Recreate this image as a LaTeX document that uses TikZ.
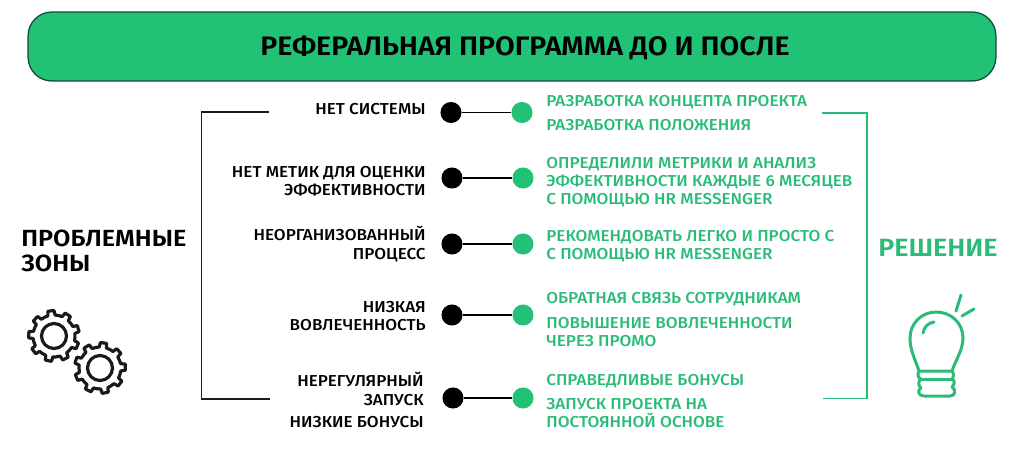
\documentclass[tikz,border=0pt]{standalone}
\usepackage{fontspec}
\setmainfont{Fira Sans}[BoldFont={Fira Sans Medium},FakeStretch=1.08]
\newfontfamily\headfont{Fira Sans SemiBold}[FakeStretch=1.07]
\newfontfamily\sidefont{Fira Sans SemiBold}[FakeStretch=1.08]
\definecolor{headgreen}{HTML}{21C275}
\definecolor{headline}{HTML}{0F4A30}
\definecolor{solgreen}{HTML}{2BBB78}
\definecolor{inkblack}{HTML}{1A1A1A}
\tikzset{
  problem/.style={anchor=east, align=right, text=black, inner sep=0pt, font=\bfseries\fontsize{9}{10.4}\selectfont},
  solution/.style={anchor=west, align=left, text=solgreen, inner sep=0pt, font=\bfseries\fontsize{9}{10.4}\selectfont},
  blackdot/.style={circle, fill=black, minimum size=12pt, inner sep=0pt},
  greendot/.style={circle, fill=headgreen, minimum size=12pt, inner sep=0pt},
  link/.style={line width=0.8pt, black},
  bracketblack/.style={line width=0.8pt, inkblack},
  bracketgreen/.style={line width=0.8pt, solgreen},
  gearline/.style={line width=1.8pt, inkblack, line join=round},
  bulbline/.style={line width=1.7pt, solgreen, line cap=round, line join=round}
}
\newcommand{\gearshape}[3]{% centre x, centre y, start angle
  \draw[gearline] ({#1+21*cos(#3)},{#2+21*sin(#3)})
  \foreach \k in {0,...,8} {
    -- ({#1+21*cos(#3+40*\k+8)},{#2+21*sin(#3+40*\k+8)})
    -- ({#1+25.5*cos(#3+40*\k+11)},{#2+25.5*sin(#3+40*\k+11)})
    -- ({#1+25.5*cos(#3+40*\k+25)},{#2+25.5*sin(#3+40*\k+25)})
    -- ({#1+21*cos(#3+40*\k+28)},{#2+21*sin(#3+40*\k+28)})
    -- ({#1+21*cos(#3+40*\k+40)},{#2+21*sin(#3+40*\k+40)})
  } -- cycle;
  \draw[gearline] (#1,#2) circle (12.5);
}
\begin{document}
\begin{tikzpicture}[x=0.02cm,y=-0.02cm]
  \useasboundingbox (0,0) rectangle (1024,460);

  % Header
  \node[draw=headline, fill=headgreen, line width=0.7pt, rounded corners=13.5pt,
        minimum width=19.36cm, minimum height=1.38cm] (header) at (512,46.5) {};
  \node[font=\headfont\fontsize{15.2}{18}\selectfont, inner sep=0pt] (title) at (525,47.5) {РЕФЕРАЛЬНАЯ ПРОГРАММА ДО И ПОСЛЕ};

  % Side titles
  \node[anchor=west, align=left, inner sep=0pt, font=\sidefont\fontsize{13.3}{14}\selectfont] (zones) at (21,251) {ПРОБЛЕМНЫЕ\\ЗОНЫ};
  \node[inner sep=0pt, text=solgreen, font=\sidefont\fontsize{14.2}{14}\selectfont] (answer) at (938,248) {РЕШЕНИЕ};

  % Problems
  \node[problem] (p1) at (426,109) {НЕТ СИСТЕМЫ};
  \node[problem] (p2) at (426,181) {НЕТ МЕТИК ДЛЯ ОЦЕНКИ\\ЭФФЕКТИВНОСТИ};
  \node[problem] (p3) at (426,244) {НЕОРГАНИЗОВАННЫЙ\\ПРОЦЕСС};
  \node[problem] (p4) at (426,316) {НИЗКАЯ\\ВОВЛЕЧЕННОСТЬ};
  \node[problem] (p5) at (424,389) {НЕРЕГУЛЯРНЫЙ\\ЗАПУСК};
  \node[problem] (p6) at (424,422) {НИЗКИЕ БОНУСЫ};

  % Solutions
  \node[solution] (s1) at (546,102) {РАЗРАБОТКА КОНЦЕПТА ПРОЕКТА};
  \node[solution] (s2) at (546,125) {РАЗРАБОТКА ПОЛОЖЕНИЯ};
  \node[solution] (s3) at (546,182) {ОПРЕДЕЛИЛИ МЕТРИКИ И АНАЛИЗ\\ЭФФЕКТИВНОСТИ КАЖДЫЕ 6 МЕСЯЦЕВ\\С ПОМОЩЬЮ HR MESSENGER};
  \node[solution] (s4) at (546,246) {РЕКОМЕНДОВАТЬ ЛЕГКО И ПРОСТО С\\С ПОМОЩЬЮ HR MESSENGER};
  \node[solution] (s5) at (546,299) {ОБРАТНАЯ СВЯЗЬ СОТРУДНИКАМ};
  \node[solution] (s6) at (546,332) {ПОВЫШЕНИЕ ВОВЛЕЧЕННОСТИ\\ЧЕРЕЗ ПРОМО};
  \node[solution] (s7) at (546,381) {СПРАВЕДЛИВЫЕ БОНУСЫ};
  \node[solution] (s8) at (546,413) {ЗАПУСК ПРОЕКТА НА\\ПОСТОЯННОЙ ОСНОВЕ};

  % Dots and links
  \foreach \n/\xa/\ya/\xb/\yb in {1/451/112.5/522/112.5, 2/452/178/523/178, 3/452/244/523/244, 4/452/315/523/315, 5/453/398/523/398} {
    \node[blackdot] (b\n) at (\xa,\ya) {};
    \node[greendot] (g\n) at (\xb,\yb) {};
    \draw[link] (b\n) -- (g\n);
  }

  % Left bracket
  \coordinate (lt) at (269,112);
  \coordinate (lb) at (270,399);
  \draw[bracketblack] (lt) -| (201.5,399) -- (lb);

  % Right bracket
  \coordinate (rt) at (822,113);
  \coordinate (rb) at (823,398.5);
  \draw[bracketgreen] (rt) -| (867,398.5) -- (rb);

  % Gears
  \gearshape{54}{336}{5}
  \gearshape{100}{368}{20}

  % Bulb
  \draw[bulbline] (919,371) .. controls (915,359) and (910,350) .. (910,338)
    .. controls (910,323) and (922,312) .. (936,312)
    .. controls (951,312) and (963,323) .. (963,338)
    .. controls (963,350) and (956,359) .. (952,371) -- cycle;
  \draw[bulbline] (923,333) .. controls (924,327) and (928,323) .. (934,322);
  \draw[bulbline] (919,371) .. controls (917,375) and (918,378) .. (921,379)
    .. controls (918,381) and (918,386) .. (921,388)
    .. controls (917,390) and (918,396) .. (924,396) -- (950,396)
    .. controls (956,396) and (956,389) .. (952,387)
    .. controls (955,384) and (955,380) .. (952,379)
    .. controls (954,376) and (954,374) .. (952,371);
  \draw[bulbline] (921,379) -- (952,379);
  \draw[bulbline] (961,295) -- (956,311);
  \draw[bulbline] (974,309) -- (962,316);
\end{tikzpicture}
\end{document}
